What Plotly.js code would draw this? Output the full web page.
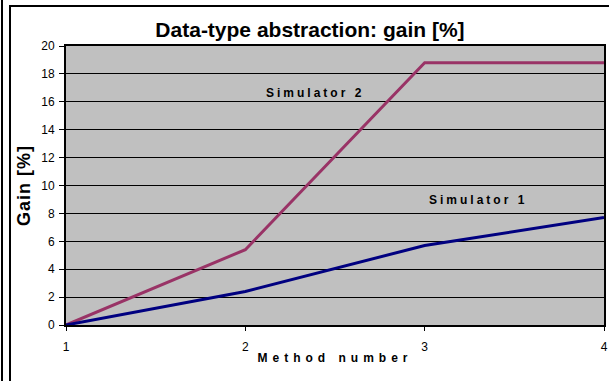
<!DOCTYPE html>
<html><head><meta charset="utf-8">
<script src="https://cdn.plot.ly/plotly-3.0.1.min.js"></script>
<style>
html,body{margin:0;padding:0;background:#fff;overflow:hidden;}
#frameA{position:absolute;left:1px;top:0;width:2px;height:381px;background:#000;}
#frameB{position:absolute;left:9px;top:5px;width:600px;height:376px;border-left:2px solid #000;border-top:2px solid #000;box-sizing:border-box;}
#chart{position:absolute;left:0;top:0;width:609px;height:381px;}
.annotation-text{letter-spacing:3px;}
</style>
</head><body>
<div id="frameA"></div><div id="frameB"></div>
<div id="chart"></div>
<script>
const methods = [1, 2, 3, 4];
const sim1 = [0, 2.4, 5.7, 7.7];
const sim2 = [0, 5.4, 18.8, 18.8];
const yTicks = [0, 2, 4, 6, 8, 10, 12, 14, 16, 18, 20];

const font = 'Liberation Sans, Arial, sans-serif';
const data = [
  {x: methods, y: sim2, mode: 'lines', name: 'Simulator 2', line: {color: '#993366', width: 3}},
  {x: methods, y: sim1, mode: 'lines', name: 'Simulator 1', line: {color: '#000080', width: 3}}
];
const layout = {
  width: 609, height: 381,
  margin: {l: 66, r: 5, t: 46, b: 56},
  paper_bgcolor: 'rgba(0,0,0,0)',
  plot_bgcolor: '#C0C0C0',
  showlegend: false,
  font: {family: font, size: 12, color: '#000'},
  title: {text: 'Data-type abstraction: gain [%]', font: {family: font, size: 21, weight: 'bold', color: '#000'},
          x: 0.509, xref: 'container', y: 0.921, yref: 'container', yanchor: 'middle', xanchor: 'center'},
  xaxis: {
    range: [1, 4], tickvals: methods, ticktext: methods.map(String),
    ticks: 'outside', ticklen: 4, tickwidth: 1, tickcolor: '#000',
    showline: true, linecolor: '#000', linewidth: 2, mirror: true,
    showgrid: false, zeroline: false, ticklabelstandoff: 6,
    title: {text: 'Method number', font: {family: font, size: 12, weight: 'bold'}, standoff: 0}
  },
  yaxis: {
    range: [0, 20], tickvals: yTicks,
    ticks: 'outside', ticklen: 5, tickwidth: 1, tickcolor: '#000',
    showline: true, linecolor: '#000', linewidth: 2, mirror: true,
    showgrid: true, gridcolor: '#000', gridwidth: 1, zeroline: false,
    ticklabelstandoff: 2,
    title: {text: 'Gain [%]', font: {family: font, size: 18, weight: 'bold'}, standoff: 6}
  },
  annotations: [
    {x: 2.39, y: 16.6, xref: 'x', yref: 'y', text: 'Simulator 2', showarrow: false, font: {family: font, size: 12, weight: 'bold', color: '#000'}},
    {x: 3.3, y: 8.95, xref: 'x', yref: 'y', text: 'Simulator 1', showarrow: false, font: {family: font, size: 12, weight: 'bold', color: '#000'}}
  ]
};
Plotly.newPlot('chart', data, layout, {staticPlot: true}).then(() => {
  document.querySelectorAll('.xtitle').forEach(e => e.style.letterSpacing = '5px');
  document.querySelectorAll('.ytitle').forEach(e => e.style.letterSpacing = '1px');
});
</script>
</body></html>
